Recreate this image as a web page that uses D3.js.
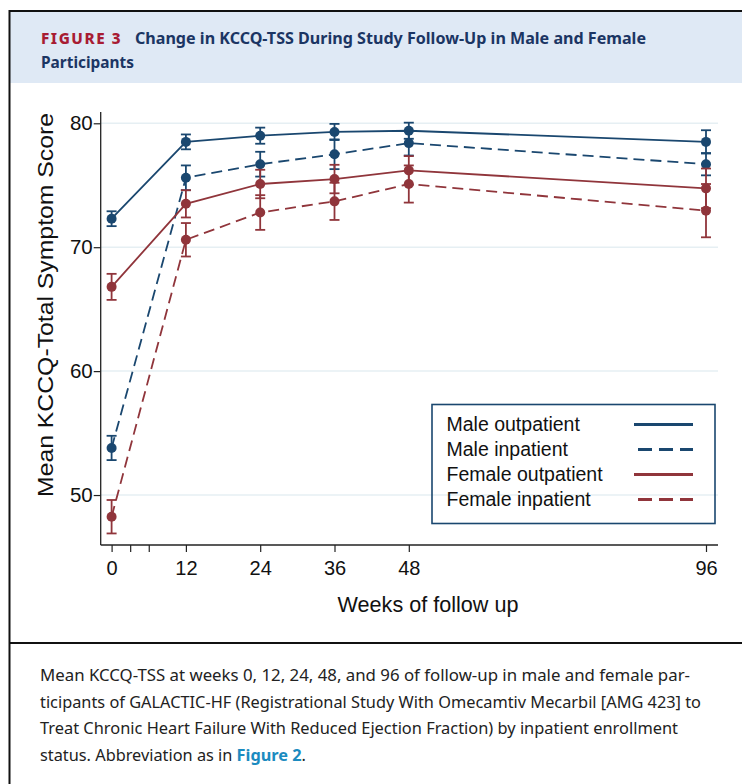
<!DOCTYPE html>
<html>
<head>
<meta charset="utf-8">
<script src="https://cdn.jsdelivr.net/npm/d3@7"></script>
<style>
  body { margin: 0; background: #fff; }
</style>
</head>
<body>
<div id="chart"></div>
<script>
// values (mean KCCQ-TSS and half-width of the error bar)
const weeks = [0, 12, 24, 36, 48, 96]
const xTicks = [0, 3, 6, 12, 24, 36, 48, 96]
const xTickLabels = [0, 12, 24, 36, 48, 96]
const yTicks = [50, 60, 70, 80]

const seriesNames = ['Male outpatient', 'Male inpatient', 'Female outpatient', 'Female inpatient']
const maleOutpatient = [72.3, 78.5, 79.0, 79.3, 79.4, 78.5]
const maleOutpatientErr = [0.6, 0.6, 0.65, 0.65, 0.65, 0.94]
const maleInpatient = [53.8, 75.6, 76.7, 77.5, 78.4, 76.7]
const maleInpatientErr = [0.98, 1.0, 1.0, 1.2, 1.0, 0.9]
const femaleOutpatient = [66.8, 73.5, 75.1, 75.5, 76.2, 74.75]
const femaleOutpatientErr = [1.05, 1.1, 1.15, 1.15, 1.15, 1.6]
const femaleInpatient = [48.25, 70.6, 72.8, 73.7, 75.1, 72.95]
const femaleInpatientErr = [1.35, 1.35, 1.4, 1.5, 1.5, 2.15]

const captionLines = [
  'Mean KCCQ-TSS at weeks 0, 12, 24, 48, and 96 of follow-up in male and female par-',
  'ticipants of GALACTIC-HF (Registrational Study With Omecamtiv Mecarbil [AMG 423] to',
  'Treat Chronic Heart Failure With Reduced Ejection Fraction) by inpatient enrollment'
]

const navy = '#1a476f'
const maroon = '#90353b'

let series = [
  {name: seriesNames[0], values: maleOutpatient, err: maleOutpatientErr, color: navy, dash: null},
  {name: seriesNames[1], values: maleInpatient, err: maleInpatientErr, color: navy, dash: '11,6'},
  {name: seriesNames[2], values: femaleOutpatient, err: femaleOutpatientErr, color: maroon, dash: null},
  {name: seriesNames[3], values: femaleInpatient, err: femaleInpatientErr, color: maroon, dash: '11,6'}
]

let svg = d3.select('#chart').append('svg')
  .attr('width', 742).attr('height', 784)
  .style('background', '#fff')

// ---- figure frame + header ----
svg.append('rect').attr('x', 10).attr('y', 12).attr('width', 740).attr('height', 71).attr('fill', '#dfe9f5')
svg.append('line').attr('x1', 9).attr('x2', 742).attr('y1', 11).attr('y2', 11).attr('stroke', '#111').attr('stroke-width', 2)
svg.append('line').attr('x1', 9.5).attr('x2', 9.5).attr('y1', 10).attr('y2', 784).attr('stroke', '#111').attr('stroke-width', 2)
svg.append('line').attr('x1', 9).attr('x2', 742).attr('y1', 643).attr('y2', 643).attr('stroke', '#111').attr('stroke-width', 2)

let titleFont = "'Noto Sans', 'Open Sans', sans-serif"
svg.append('text').attr('x', 41).attr('y', 43.5)
  .attr('textLength', 81).attr('lengthAdjust', 'spacingAndGlyphs')
  .style('font-family', titleFont).style('font-weight', 800).style('font-size', '15px')
  .style('letter-spacing', '1.5px').attr('fill', '#a81c33')
  .text('FIGURE 3')
svg.append('text').attr('x', 135).attr('y', 43.5)
  .attr('textLength', 511).attr('lengthAdjust', 'spacingAndGlyphs')
  .style('font-family', titleFont).style('font-weight', 700).style('font-size', '16px')
  .attr('fill', '#1b3563')
  .text('Change in KCCQ-TSS During Study Follow-Up in Male and Female')
svg.append('text').attr('x', 41).attr('y', 68)
  .attr('textLength', 93).attr('lengthAdjust', 'spacingAndGlyphs')
  .style('font-family', titleFont).style('font-weight', 700).style('font-size', '16px')
  .attr('fill', '#1b3563')
  .text('Participants')

// ---- chart ----
let axisFont = "'Liberation Sans', Arial, Helvetica, sans-serif"
let x = d3.scaleLinear().domain([0, 96]).range([111.6, 706])
let y = d3.scaleLinear().domain([46, 81]).range([544.6, 110.9])
let plotLeft = 100.7, plotRight = 718, plotBottom = 545, plotTop = 112

let g = svg.append('g')

g.selectAll('.grid').data(yTicks).join('line')
  .attr('class', 'grid')
  .attr('x1', plotLeft).attr('x2', plotRight)
  .attr('y1', d => y(d)).attr('y2', d => y(d))
  .attr('stroke', '#e6eff3').attr('stroke-width', 1.5)

let yAxis = g.append('g').attr('transform', `translate(${plotLeft},0)`)
  .call(d3.axisLeft(y).tickValues(yTicks).tickSize(7).tickPadding(1).tickSizeOuter(0))
yAxis.select('.domain').remove()
yAxis.selectAll('line').attr('stroke', '#222').attr('stroke-width', 1.2)
yAxis.selectAll('text').style('font-family', axisFont).style('font-size', '20.5px').attr('fill', '#111')

let xAxis = g.append('g').attr('transform', `translate(0,${plotBottom})`)
  .call(d3.axisBottom(x).tickValues(xTicks).tickSize(7).tickPadding(9).tickSizeOuter(0)
    .tickFormat(d => xTickLabels.includes(d) ? d : ''))
xAxis.select('.domain').remove()
xAxis.selectAll('line').attr('stroke', '#222').attr('stroke-width', 1.2)
xAxis.selectAll('text').style('font-family', axisFont).style('font-size', '20px').attr('fill', '#111')

g.append('line').attr('x1', plotLeft).attr('x2', plotLeft).attr('y1', plotTop).attr('y2', plotBottom)
  .attr('stroke', '#222').attr('stroke-width', 1.3)
g.append('line').attr('x1', plotLeft).attr('x2', plotRight).attr('y1', plotBottom).attr('y2', plotBottom)
  .attr('stroke', '#222').attr('stroke-width', 1.3)

svg.append('text')
  .attr('transform', 'translate(53,305) rotate(-90)')
  .attr('text-anchor', 'middle')
  .attr('textLength', 384).attr('lengthAdjust', 'spacingAndGlyphs')
  .style('font-family', axisFont).style('font-size', '22px').attr('fill', '#111')
  .text('Mean KCCQ-Total Symptom Score')
svg.append('text')
  .attr('x', 428).attr('y', 612).attr('text-anchor', 'middle')
  .style('font-family', axisFont).style('font-size', '21.6px').attr('fill', '#111')
  .text('Weeks of follow up')

let line = d3.line().x((d, i) => x(weeks[i])).y(d => y(d))
let capW = 5

series.forEach(s => {
  let sg = g.append('g')
  let pts = s.values.map((v, i) => ({wk: weeks[i], v: v, e: s.err[i]}))
  sg.selectAll('.bar').data(pts).join('line')
    .attr('x1', d => x(d.wk)).attr('x2', d => x(d.wk))
    .attr('y1', d => y(d.v - d.e)).attr('y2', d => y(d.v + d.e))
    .attr('stroke', s.color).attr('stroke-width', 1.8)
  sg.selectAll('.capTop').data(pts).join('line')
    .attr('x1', d => x(d.wk) - capW).attr('x2', d => x(d.wk) + capW)
    .attr('y1', d => y(d.v + d.e)).attr('y2', d => y(d.v + d.e))
    .attr('stroke', s.color).attr('stroke-width', 1.8)
  sg.selectAll('.capBot').data(pts).join('line')
    .attr('x1', d => x(d.wk) - capW).attr('x2', d => x(d.wk) + capW)
    .attr('y1', d => y(d.v - d.e)).attr('y2', d => y(d.v - d.e))
    .attr('stroke', s.color).attr('stroke-width', 1.8)
  sg.append('path').datum(s.values)
    .attr('d', line)
    .attr('fill', 'none').attr('stroke', s.color).attr('stroke-width', 1.8)
    .attr('stroke-dasharray', s.dash)
  sg.selectAll('circle').data(pts).join('circle')
    .attr('cx', d => x(d.wk)).attr('cy', d => y(d.v)).attr('r', 5)
    .attr('fill', s.color)
})

// ---- legend ----
let lg = svg.append('g')
lg.append('rect').attr('x', 432).attr('y', 404.5).attr('width', 283).attr('height', 119)
  .attr('fill', 'none').attr('stroke', navy).attr('stroke-width', 1.6)
series.forEach((s, i) => {
  let by = 431 + i * 25
  lg.append('text').attr('x', 446.5).attr('y', by)
    .style('font-family', axisFont).style('font-size', '19.5px').attr('fill', '#111')
    .text(s.name)
  lg.append('line').attr('x1', s.dash ? 638 : 634).attr('x2', 693)
    .attr('y1', by - 6.5).attr('y2', by - 6.5)
    .attr('stroke', s.color).attr('stroke-width', 3)
    .attr('stroke-dasharray', s.dash ? '14,7' : null)
})

// ---- caption ----
let capFont = "'Noto Sans', 'Open Sans', sans-serif"
let capWidths = [650, 661, 638]
captionLines.forEach((t, i) => {
  svg.append('text').attr('x', 40).attr('y', 681 + i * 26.7)
    .attr('textLength', capWidths[i]).attr('lengthAdjust', 'spacingAndGlyphs')
    .style('font-family', capFont).style('font-size', '16px').attr('fill', '#222')
    .text(t)
})
let last = svg.append('text').attr('x', 40).attr('y', 761)
  .attr('textLength', 266).attr('lengthAdjust', 'spacingAndGlyphs')
  .style('font-family', capFont).style('font-size', '16px').attr('fill', '#222')
last.append('tspan').text('status. Abbreviation as in ')
last.append('tspan').style('font-weight', 700).attr('fill', '#1b8bc0').text('Figure 2')
last.append('tspan').text('.')
</script>
</body>
</html>
